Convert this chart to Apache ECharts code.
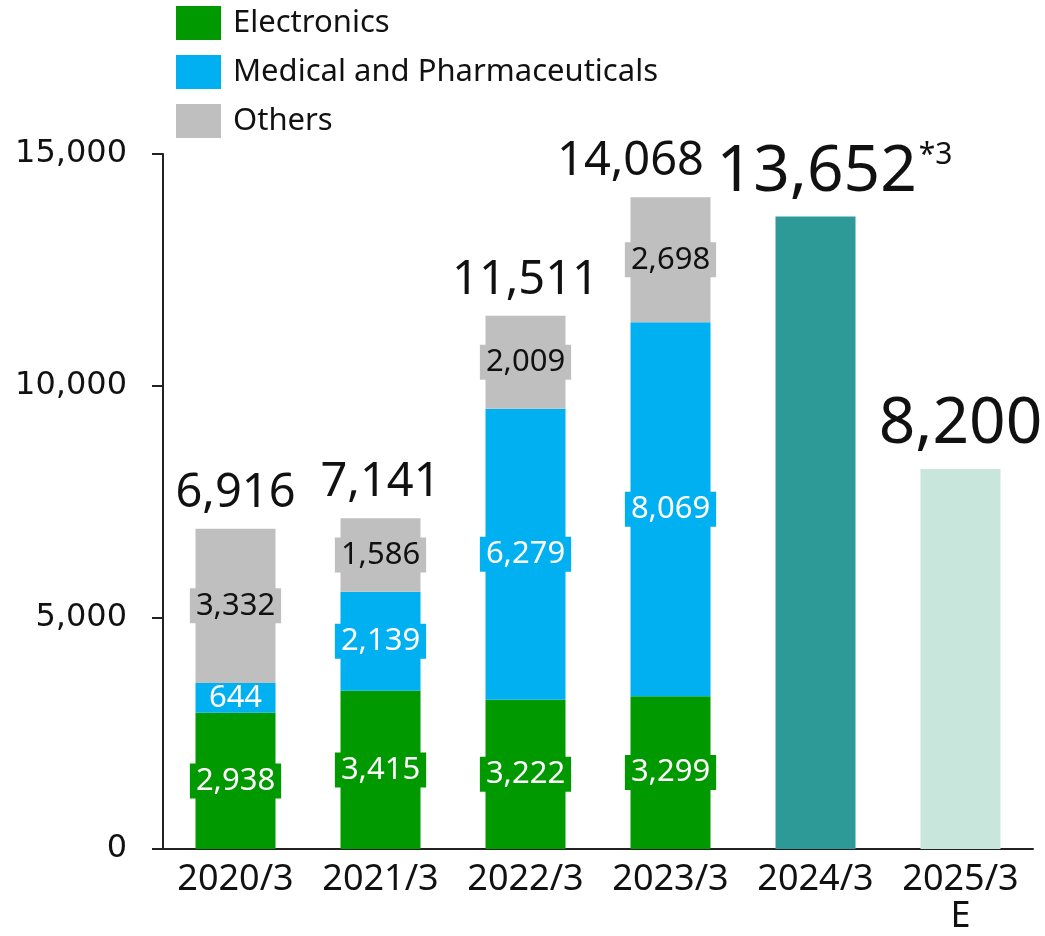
<!DOCTYPE html>
<html>
<head>
<meta charset="utf-8">
<script src="https://cdn.jsdelivr.net/npm/echarts@6/dist/echarts.min.js"></script>
<style>
  html, body { margin: 0; padding: 0; background: #fff; }
  #chart { width: 1045px; height: 936px; }
</style>
</head>
<body>
<div id="chart"></div>
<script>
var categories = ['2020/3', '2021/3', '2022/3', '2023/3', '2024/3', '2025/3\nE'];
var electronics = [2938, 3415, 3222, 3299, null, null];
var medical = [644, 2139, 6279, 8069, null, null];
var others = [3332, 1586, 2009, 2698, null, null];
// years without a breakdown are drawn as one bar
var whole = [0, 0, 0, 0, 13652, 8200];
var totals = [6916, 7141, 11511, 14068, 13652, 8200];
var yTicks = [0, 5000, 10000, 15000];

var fmt = function(v){ return v.toLocaleString('en-US'); };

/*段内数字标签*/
function segLabel(bg, color){
    return {
        show: true,
        position: 'inside',
        formatter: function(p){ return fmt(p.value); },
        fontFamily: 'Noto Sans',
        fontSize: 31,
        lineHeight: 31,
        color: color,
        backgroundColor: bg,
        padding: [2, 6]
    };
}

function segSeries(name, values, bg, color){
    return {
        name: name,
        type: 'bar',
        stack: 'all',
        barWidth: 80,
        data: values,
        itemStyle: { color: bg },
        label: segLabel(bg, color)
    };
}

var medicalData = medical.map(function(v){
    // thin segment: keep the label box inside it
    if (v != null && v < 1000) return { value: v, label: { padding: [0, 6], lineHeight: 28 } };
    return v;
});

var wholeColors = [null, null, null, null, '#2e9a97', '#c9e6dd'];
var wholeData = whole.map(function(v, i){
    var item = { value: v };
    if (wholeColors[i]) item.itemStyle = { color: wholeColors[i] };
    if (i == 3) {
        item.label = { offset: [-40, 0] };
    } else if (i == 4) {
        item.label = { fontSize: 64, lineHeight: 64, offset: [19, 0] };
    } else if (i == 5) {
        item.label = { fontSize: 64, lineHeight: 64 };
    }
    return item;
});

var chart = echarts.init(document.getElementById('chart'));
var option = {
    animation: false,
    legend: {
        data: ['Electronics', 'Medical and Pharmaceuticals', 'Others'],
        orient: 'vertical',
        left: 176,
        top: 6,
        padding: 0,
        itemWidth: 45,
        itemHeight: 34,
        itemGap: 15,
        icon: 'rect',
        selectedMode: false,
        textStyle: {
            fontFamily: 'Noto Sans',
            fontSize: 31,
            color: '#111',
            padding: [0, 0, 0, 7]
        }
    },
    grid: { left: 163, right: 12, top: 154, bottom: 87, containLabel: false },
    xAxis: {
        type: 'category',
        data: categories,
        axisLine: { lineStyle: { color: '#222', width: 2 } },
        axisTick: { show: false },
        axisLabel: {
            interval: 0,
            fontFamily: 'Noto Sans',
            fontSize: 36,
            lineHeight: 37,
            color: '#111',
            margin: 12
        }
    },
    yAxis: {
        type: 'value',
        min: yTicks[0],
        max: yTicks[yTicks.length - 1],
        interval: 5000,
        axisLine: { show: true, lineStyle: { color: '#222', width: 2 } },
        axisTick: { show: true, length: 11, lineStyle: { color: '#222', width: 2 } },
        splitLine: { show: false },
        axisLabel: {
            fontFamily: 'DejaVu Sans',
            fontSize: 32,
            color: '#111',
            margin: 36,
            formatter: function(v){ return fmt(v); }
        }
    },
    series: [
        segSeries('Electronics', electronics, '#009a00', '#fff'),
        segSeries('Medical and Pharmaceuticals', medicalData, '#00b0f0', '#fff'),
        segSeries('Others', others, '#bfbfbf', '#111'),
        {
            name: 'Total',
            type: 'bar',
            stack: 'all',
            barWidth: 80,
            data: wholeData,
            label: {
                show: true,
                position: 'top',
                distance: 12,
                fontFamily: 'Noto Sans',
                fontSize: 47,
                lineHeight: 47,
                color: '#111',
                formatter: function(p){
                    var s = fmt(totals[p.dataIndex]);
                    if (p.dataIndex == 4) return '{n|' + s + '}{s|*3}';
                    return s;
                },
                rich: {
                    n: { fontFamily: 'Noto Sans', fontSize: 64, lineHeight: 64, color: '#111' },
                    s: { fontFamily: 'Noto Sans', fontSize: 30, lineHeight: 30, color: '#111', verticalAlign: 'top', padding: [0, 0, 34, 2] }
                }
            }
        }
    ]
};
chart.setOption(option);
</script>
</body>
</html>
